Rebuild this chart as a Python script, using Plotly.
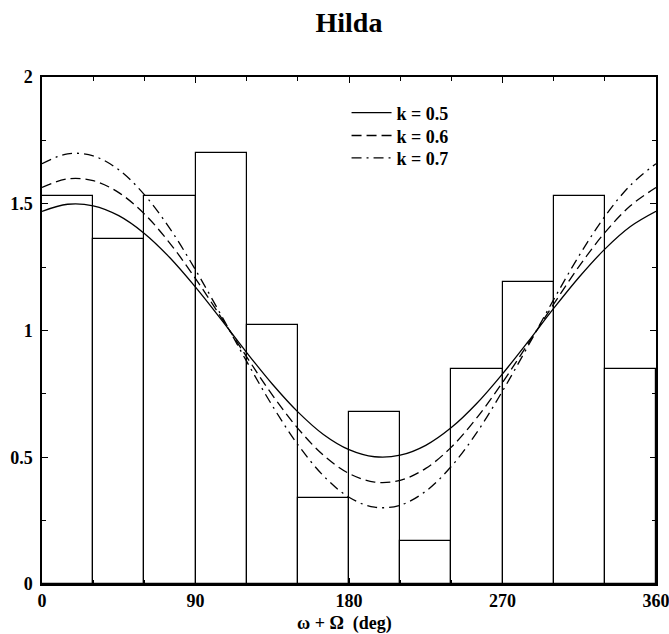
import plotly.graph_objects as go

# histogram bins (degrees) and normalized heights
bin_centers = [15, 45, 75, 105, 135, 165, 195, 225, 255, 285, 315, 345]
bin_heights = [1.53, 1.36, 1.53, 1.70, 1.02, 0.34, 0.68, 0.17, 0.85, 1.19, 1.53, 0.85]

# model curves sampled every 15 degrees
curve_x = [0, 15, 30, 45, 60, 75, 90, 105, 120, 135, 150, 165, 180,
           195, 210, 225, 240, 255, 270, 285, 300, 315, 330, 345, 360]
k05 = [1.470, 1.498, 1.492, 1.453, 1.383, 1.287, 1.171, 1.044, 0.913, 0.789, 0.679, 0.590, 0.530,
       0.502, 0.508, 0.547, 0.617, 0.713, 0.829, 0.956, 1.087, 1.211, 1.321, 1.410, 1.470]
k06 = [1.564, 1.598, 1.591, 1.544, 1.460, 1.344, 1.205, 1.052, 0.896, 0.746, 0.614, 0.508, 0.436,
       0.402, 0.409, 0.456, 0.540, 0.656, 0.795, 0.948, 1.104, 1.254, 1.386, 1.492, 1.564]
k07 = [1.658, 1.697, 1.689, 1.634, 1.536, 1.402, 1.239, 1.061, 0.878, 0.704, 0.550, 0.427, 0.342,
       0.303, 0.311, 0.366, 0.464, 0.598, 0.761, 0.939, 1.122, 1.296, 1.450, 1.573, 1.658]
curve_names = ["k = 0.5", "k = 0.6", "k = 0.7"]

x_ticks = [0, 90, 180, 270, 360]
y_ticks = [0, 0.5, 1, 1.5, 2]
y_tick_text = ["0", "0.5", "1", "1.5", "2"]

FONT = "Liberation Serif"
BOLD = dict(family=FONT, size=18, color="black", weight="bold")

fig = go.Figure()
fig.add_trace(go.Bar(
    x=bin_centers, y=bin_heights, width=30,
    marker=dict(color="rgba(0,0,0,0)", line=dict(color="black", width=1.2)),
    showlegend=False, hoverinfo="skip"))

dashes = ["solid", "10px,5px", "10px,5px,2px,5px"]
legend_ids = ["legend", "legend2", "legend3"]
for name, ys, d, lg in zip(curve_names, [k05, k06, k07], dashes, legend_ids):
    fig.add_trace(go.Scatter(
        x=curve_x, y=ys, mode="lines", name=name, legend=lg,
        line=dict(color="black", width=1.3, dash=d, shape="spline", smoothing=1.0)))

leg_common = dict(x=0.496, xanchor="left", yanchor="middle",
                  bgcolor="rgba(0,0,0,0)", borderwidth=0, font=BOLD, itemwidth=40)

fig.update_layout(
    width=669, height=634,
    paper_bgcolor="white", plot_bgcolor="white",
    margin=dict(l=42, r=13, t=77, b=50),
    font=BOLD,
    title=dict(text="Hilda", x=0.5, xref="paper", y=0.965, yref="container",
               xanchor="center", yanchor="middle",
               font=dict(family=FONT, size=28, color="black", weight="bold")),
    bargap=0,
    legend=dict(y=0.929, **leg_common),
    legend2=dict(y=0.884, **leg_common),
    legend3=dict(y=0.840, **leg_common),
    showlegend=True,
    annotations=[dict(text="ω + Ω  (deg)", xref="paper", yref="paper",
                      x=0.492, y=-0.078, xanchor="center", yanchor="middle",
                      showarrow=False, font=BOLD)],
)
fig.update_xaxes(
    range=[0, 360], tickvals=x_ticks, ticktext=[str(v) for v in x_ticks],
    ticks="inside", ticklen=6, tickcolor="black",
    minor=dict(dtick=30, ticks="inside", ticklen=4, tickcolor="black"),
    showline=True, linecolor="black", linewidth=1.5, mirror="ticks",
    showgrid=False, zeroline=False, automargin=False,
    ticklabeloverflow="allow",
    tickfont=BOLD)
fig.update_yaxes(
    range=[0, 2], tickvals=y_ticks, ticktext=y_tick_text,
    ticks="inside", ticklen=6, tickcolor="black",
    minor=dict(dtick=0.25, ticks="inside", ticklen=4, tickcolor="black"),
    showline=True, linecolor="black", linewidth=1.5, mirror="ticks",
    showgrid=False, zeroline=False, automargin=False,
    ticklabeloverflow="allow", ticklabelstandoff=4,
    tickfont=BOLD)

fig.write_html("out.html", config={"displayModeBar": False},
               post_script="document.body.style.margin='0';")
